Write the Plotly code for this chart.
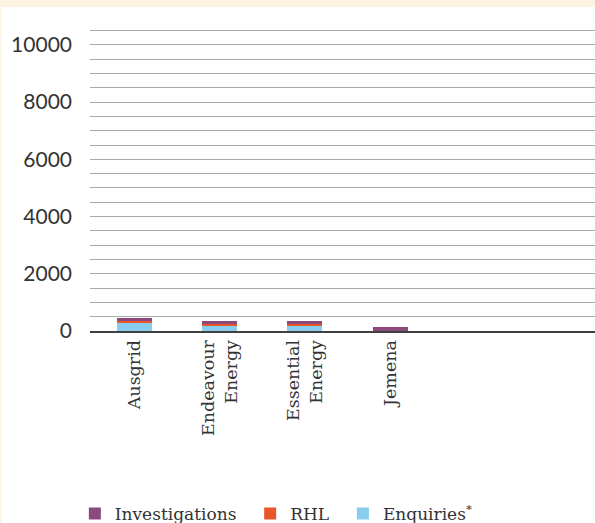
import plotly.graph_objects as go

categories = ["Ausgrid", "Endeavour<br>Energy", "Essential<br>Energy", "Jemena", " ", "  "]
enquiries = [290, 170, 170, 0, None, None]
rhl = [70, 70, 70, 0, None, None]
investigations = [105, 100, 100, 130, None, None]

series_names = ["Enquiries<sup>*</sup>", "RHL\u00a0\u2009", "Investigations\u00a0\u2009"]
series_values = [enquiries, rhl, investigations]
series_colors = ["#88CDEE", "#E8562A", "#8C4A7C"]

y_ticks = [0, 2000, 4000, 6000, 8000, 10000]
y_tick_text = ["0", "2000", "4000", "6000", "8000", "10000"]

fig = go.Figure()
for name, vals, col in zip(series_names, series_values, series_colors):
    fig.add_trace(go.Bar(x=categories, y=vals, name=name, marker_color=col,
                         marker_line_width=0))

W, H = 595, 523
ml, mr, mt, mb = 90, 0, 16, 192
ph = H - mt - mb

fig.update_layout(
    width=W, height=H,
    margin=dict(l=ml, r=mr, t=mt, b=mb, autoexpand=False),
    barmode="stack",
    bargap=0.59,
    paper_bgcolor="white",
    plot_bgcolor="white",
    showlegend=True,
    legend=dict(orientation="h", x=-0.03, xanchor="left", y=(331 - 514) / ph,
                yanchor="middle", traceorder="reversed",
                font=dict(family="DejaVu Serif", size=17, color="#333333"),
                itemwidth=30, bgcolor="rgba(0,0,0,0)"),
    xaxis=dict(
        type="category",
        range=[-0.52, 5.40],
        tickangle=-90,
        tickfont=dict(family="DejaVu Serif", size=17.5, color="#333333"),
        showgrid=False,
        showline=True, linecolor="#404040", linewidth=2,
        ticks="", ticklabelstandoff=0, automargin=False,
    ),
    yaxis=dict(
        range=[0, 11010],
        tickvals=y_ticks,
        ticktext=y_tick_text,
        tickfont=dict(family="Lato", size=21, color="#333333"),
        showgrid=True, gridcolor="#a8a8a8", gridwidth=1,
        minor=dict(dtick=500, showgrid=True, gridcolor="#a8a8a8", gridwidth=1),
        zeroline=False, showline=False,
        ticks="", ticklabelstandoff=17, automargin=False,
    ),
    shapes=[
        dict(type="rect", xref="paper", yref="paper",
             x0=-ml / 505, x1=1, y0=1 + (mt - 7) / ph, y1=1 + mt / ph,
             fillcolor="#FDF3E3", line_width=0, layer="below"),
        dict(type="rect", xref="paper", yref="paper",
             x0=-ml / 505, x1=-(ml - 1.5) / 505, y0=-mb / ph, y1=1 + mt / ph,
             fillcolor="#FDF3E3", line_width=0, layer="below"),
    ],
)

fig.write_html("out.html")
